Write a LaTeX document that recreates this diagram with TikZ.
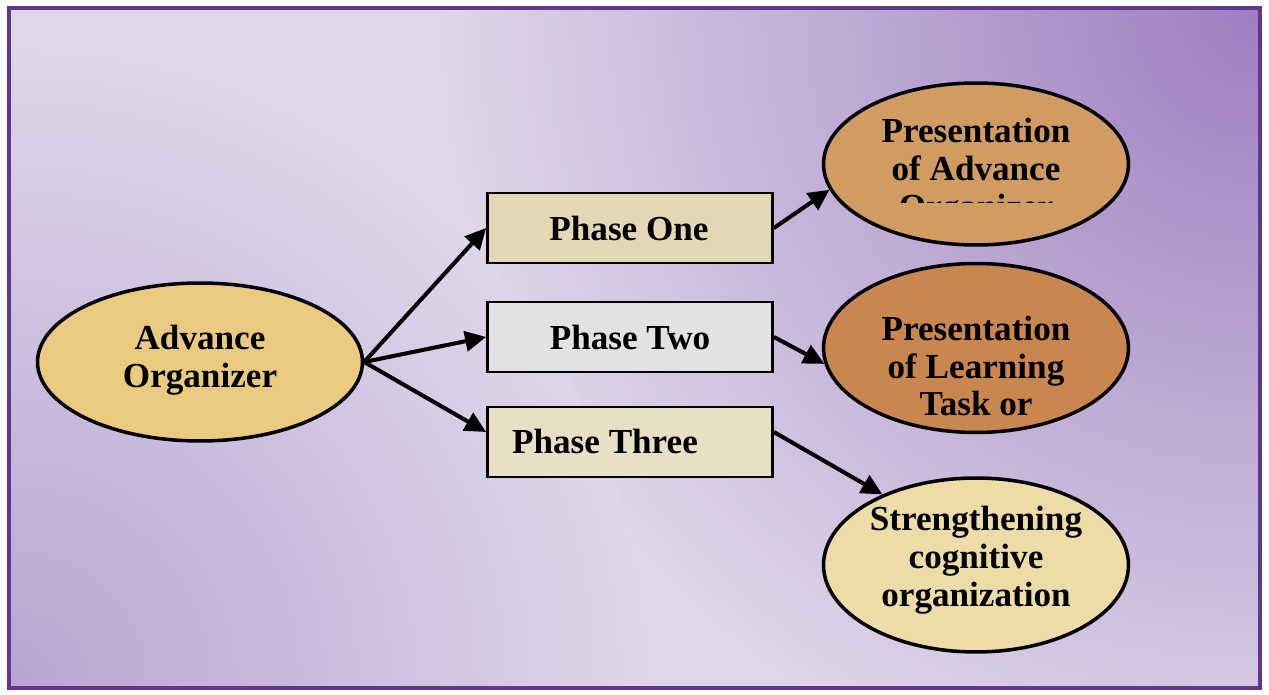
\documentclass[tikz,border=0pt]{standalone}
\usepackage{fontspec}
\setmainfont{Liberation Serif}
\usetikzlibrary{shapes.geometric,arrows.meta}

\definecolor{framecol}{RGB}{98,54,138}
\definecolor{bgL}{RGB}{222,214,233}
\definecolor{bgB}{RGB}{158,126,192}
\definecolor{bgC}{RGB}{184,164,210}
\definecolor{tan}{RGB}{234,202,126}
\definecolor{burlap}{RGB}{228,216,180}
\definecolor{marble}{RGB}{226,226,229}
\definecolor{parch}{RGB}{233,223,198}
\definecolor{cork}{RGB}{208,156,98}
\definecolor{wood}{RGB}{201,134,78}
\definecolor{paper}{RGB}{238,220,168}

\begin{document}
\begin{tikzpicture}[x=0.02cm, y=-0.02cm,
  oval/.style = {draw, ellipse, line width=2pt, inner sep=0pt, minimum width=6.1cm, minimum height=3.3cm},
  phase/.style = {draw, rectangle, line width=1.6pt, minimum width=5.7cm, minimum height=1.4cm},
  txt/.style = {font=\fontsize{20}{21.5}\selectfont\bfseries, align=center},
  link/.style = {-{Triangle[length=4.2mm, width=4mm]}, line width=2.3pt}]
\useasboundingbox (0,0) rectangle (1269,695);
% background
\fill[bgL] (9,8) rectangle (1260,688);
\begin{scope}
\clip (9,8) rectangle (1260,688);
\shade[inner color=bgB, outer color=bgL] (1260,8) circle (820);
\shade[inner color=bgC, outer color=bgL] (9,688) circle (640);
\end{scope}
\draw[framecol, line width=2.4pt] (9,8) rectangle (1260,688);

% left ellipse
\node[oval, fill=tan, minimum width=6.5cm, minimum height=3.16cm] (ao) at (200,362) {};
\node[txt] (tao) at (200,360) {Advance\\Organizer};

% phases
\node[phase, fill=burlap] (p1) at (630,228) {};
\node[txt] (tp1) at (629,228) {Phase One};
\node[phase, fill=marble] (p2) at (630,337) {};
\node[txt] (tp2) at (630,337) {Phase Two};
\node[phase, fill=parch] (p3) at (630,442) {};
\node[txt] (tp3) at (605,441) {Phase Three};

% right ellipses
\node[oval, fill=cork, minimum height=3.24cm] (e1) at (976,164) {};
\begin{scope}
\clip (820,80) rectangle (1135,203);
\node[txt] (te1) at (976,172) {Presentation\\of Advance\\Organizer};
\end{scope}
\node[oval, fill=wood, minimum height=3.38cm] (e2) at (976,348) {};
\node[txt] (te2) at (976,366) {Presentation\\of Learning\\Task or};
\node[oval, fill=paper, minimum height=3.48cm] (e3) at (976,565) {};
\node[txt] (te3) at (976,560) {Strengthening\\cognitive\\organization};

% arrows
\draw[link] (ao.east) -- (p1.west);
\draw[link] (ao.east) -- (p2.west);
\draw[link] (ao.east) -- ([yshift=0.2cm]p3.west);
\draw[link] (p1.east) -- (e1.190);
\draw[link] (p2.east) -- (e2.186);
\draw[link] ([yshift=0.2cm]p3.east) -- (e3.143);
\end{tikzpicture}
\end{document}
